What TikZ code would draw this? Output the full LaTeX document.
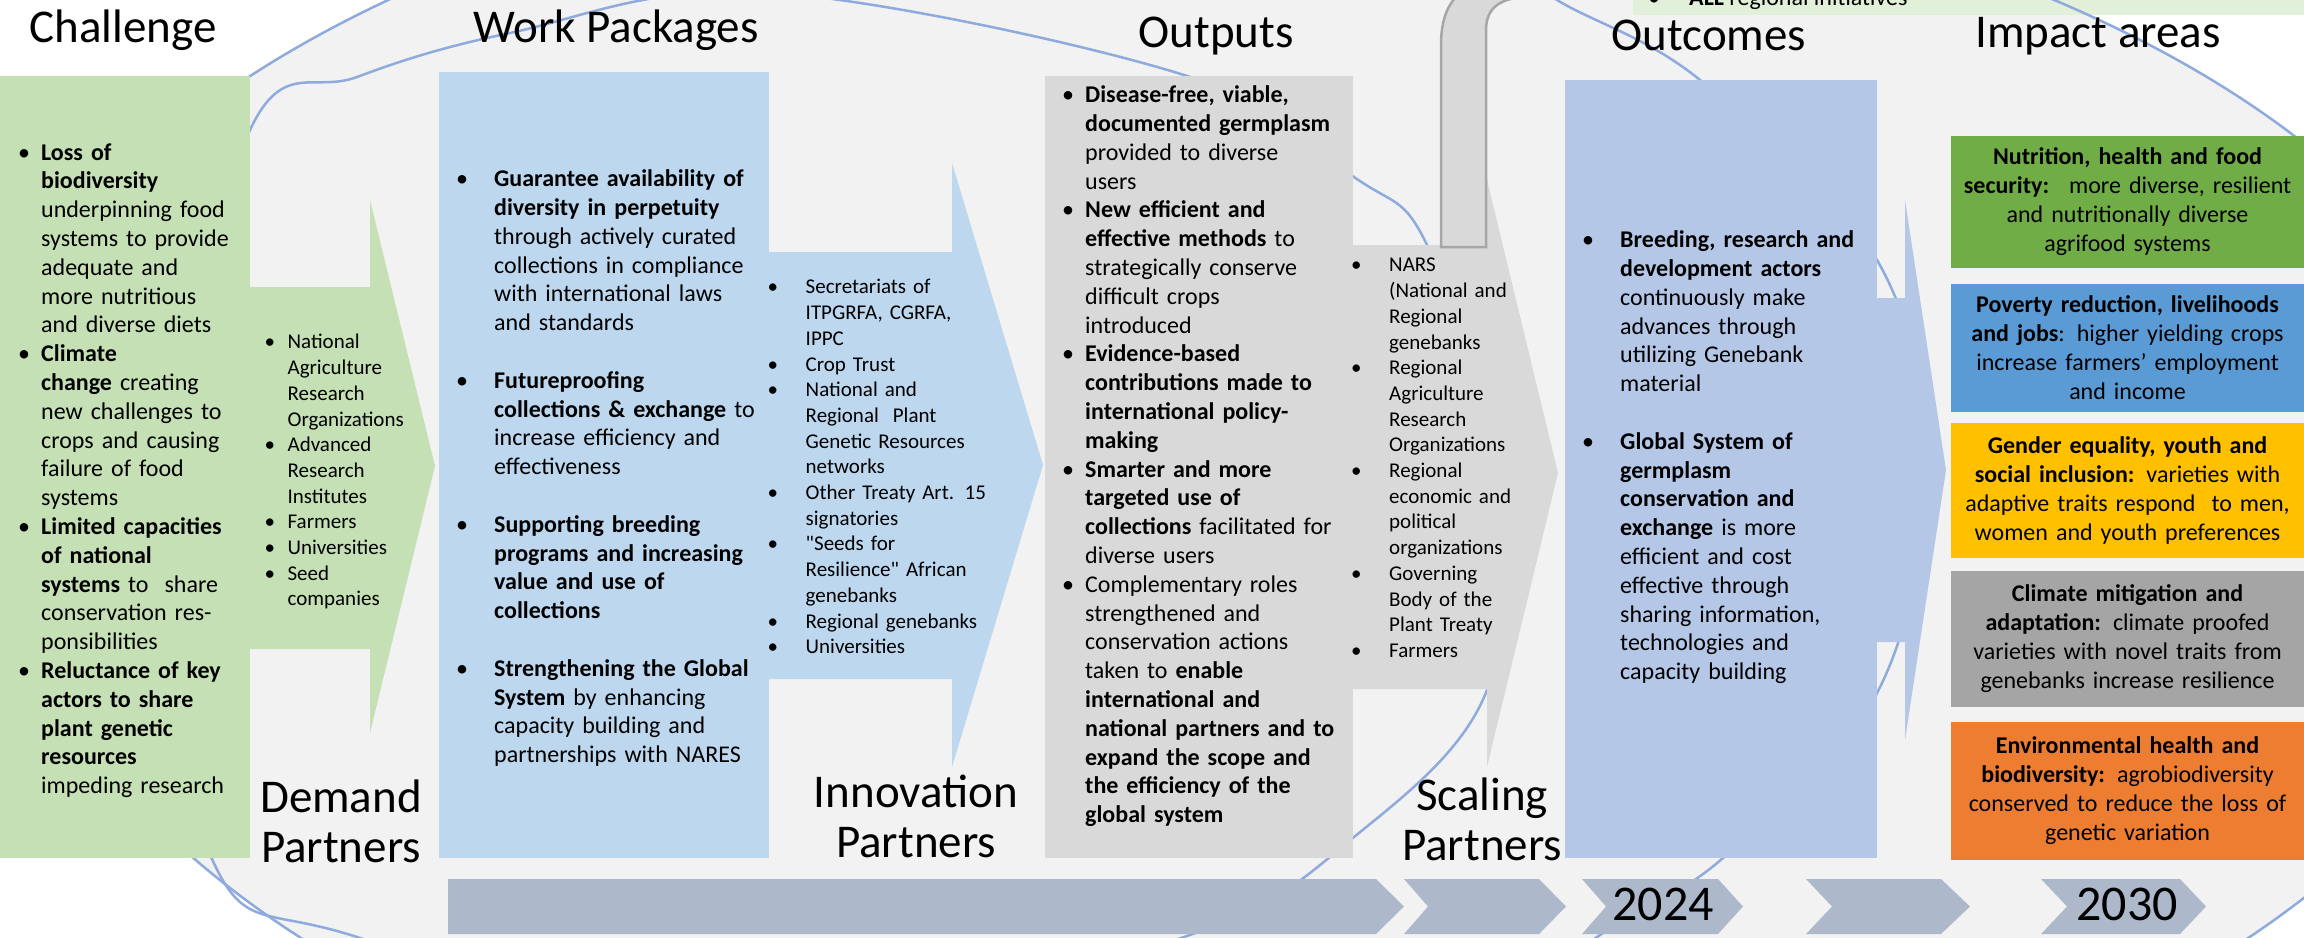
\documentclass[tikz,border=0pt]{standalone}
\usepackage{fontspec}
\setmainfont{Carlito}
\usetikzlibrary{positioning}

\definecolor{challengegreen}{HTML}{C5E0B4}
\definecolor{packageblue}{HTML}{BDD7EE}
\definecolor{outputgrey}{HTML}{D9D9D9}
\definecolor{outcomeblue}{HTML}{B4C7E7}
\definecolor{fieldgrey}{HTML}{F2F2F2}
\definecolor{ringblue}{HTML}{8FAADC}
\definecolor{timeline}{HTML}{ADB9CA}
\definecolor{stripgreen}{HTML}{E2F0D9}
\definecolor{pipeedge}{HTML}{A6A6A6}
\definecolor{impactgreen}{HTML}{70AD47}
\definecolor{impactblue}{HTML}{5B9BD5}
\definecolor{impactyellow}{HTML}{FFC000}
\definecolor{impactgrey}{HTML}{A5A5A5}
\definecolor{impactorange}{HTML}{ED7D31}

% bulleted paragraph with hanging indent
\newcommand{\blt}[2][23pt]{\par\hangindent=#1\hangafter=1\noindent\makebox[#1][l]{\strut\textbullet}#2\par}

\begin{document}
\begin{tikzpicture}[x=1pt, y=-1pt]
\tikzstyle{box} = [rectangle, inner sep=0pt, anchor=north west]
\tikzstyle{heading} = [font=\fontsize{47}{50}\selectfont, inner sep=0pt]
\tikzstyle{bodytext} = [font=\fontsize{24}{28.8}\selectfont, align=left, inner sep=0pt, anchor=north west]
\tikzstyle{listtext} = [font=\fontsize{21}{25.7}\selectfont, align=left, inner sep=0pt, anchor=north west]
\tikzstyle{impact} = [rectangle, inner sep=0pt, minimum width=353, text width=348, align=center, font=\fontsize{24}{29}\selectfont]
\tikzstyle{ring} = [draw=ringblue, line width=2.5]
\tikzstyle{year} = [font=\fontsize{50}{50}\selectfont, inner sep=0pt, anchor=base]

\useasboundingbox (0,0) rectangle (2304,937);
\clip (0,0) rectangle (2304,937);
\fill[white] (0,0) rectangle (2304,937);

% grey field behind everything
\fill[fieldgrey] (-23,480) .. controls (-23,122) and (538,-168) .. (1230,-168) -- (1230,-151)
  .. controls (1931,-151) and (2499,131) .. (2499,480) -- (2546,480)
  .. controls (2546,879) and (1957,1203) .. (1230,1203) -- (1230,1175)
  .. controls (548,1175) and (-5,864) .. (-5,480) -- cycle;

% regional initiatives strip
\node (strip) [box, fill=stripgreen, minimum width=700, minimum height=45] at (1633,-30) {};
\node (striptext) [anchor=base west, inner sep=0pt, font=\fontsize{24}{29}\selectfont] at (1648,5) {\makebox[41pt][l]{\textbullet}\textbf{ALL} regional initiatives};

% blue rings
\draw[ring] (-23,480) .. controls (-23,122) and (538,-168) .. (1230,-168) -- (1230,-151)
  .. controls (1931,-151) and (2499,131) .. (2499,480) -- (2546,480)
  .. controls (2546,879) and (1957,1203) .. (1230,1203) -- (1230,1175)
  .. controls (548,1175) and (-5,864) .. (-5,480) -- cycle;
\draw[ring] plot[smooth cycle, tension=0.6] coordinates {(160,500) (250,130) (357,77) (510,33) (765,-8) (1184,75) (1354,177) (1427,245) (1495,470) (1487,690) (1354,837) (1184,937) (770,1040) (357,937) (212,859)};
\draw[ring] plot[smooth, tension=0.6] coordinates {(1470,-60) (1557,0) (1700,80) (1877,260) (1925,470) (1877,693) (1723,858) (1597,937) (1530,990)};

% partner arrows
\fill[challengegreen] (200,287) -- (370,287) -- (370,200) -- (435,466) -- (370,733) -- (370,649) -- (200,649) -- cycle;
\fill[packageblue] (700,252) -- (952,252) -- (952,163) -- (1043,465) -- (952,767) -- (952,679) -- (700,679) -- cycle;
\fill[outputgrey] (1300,245) -- (1487,245) -- (1487,180) -- (1558,473) -- (1487,767) -- (1487,689) -- (1300,689) -- cycle;
\fill[outcomeblue] (1800,298) -- (1905,298) -- (1905,200) -- (1946,470) -- (1905,740) -- (1905,642) -- (1800,642) -- cycle;

% pipe up to the regional strip
\filldraw[fill=outputgrey, draw=pipeedge, line width=2.5] (1441,247) -- (1441,45) .. controls (1441,12) and (1452,-8) .. (1480,-18)
  -- (1530,-18) -- (1530,-3) .. controls (1500,-3) and (1486,8) .. (1486,30) -- (1486,247) -- cycle;

% column boxes
\node (challenge) [box, fill=challengegreen, minimum width=250, minimum height=782] at (0,76) {};
\node (packages) [box, fill=packageblue, minimum width=330, minimum height=786] at (439,72) {};
\node (outputs) [box, fill=outputgrey, minimum width=308, minimum height=782] at (1045,76) {};
\node (outcomes) [box, fill=outcomeblue, minimum width=312, minimum height=778] at (1565,80) {};

% impact areas
\node (nutrition) [impact, fill=impactgreen, minimum height=132] at (2127.5,202) {\textbf{Nutrition, health and food}\\\textbf{security:}~ more diverse, resilient\\and nutritionally diverse\\agrifood systems};
\node (poverty) [impact, fill=impactblue, minimum height=128] at (2127.5,348) {\textbf{Poverty reduction, livelihoods}\\\textbf{and jobs}: higher yielding crops\\increase farmers' employment\\and income};
\node (gender) [impact, fill=impactyellow, minimum height=135] at (2127.5,490.5) {\textbf{Gender equality, youth and}\\\textbf{social inclusion:} varieties with\\adaptive traits respond~ to men,\\women and youth preferences};
\node (climate) [impact, fill=impactgrey, minimum height=136] at (2127.5,639) {\textbf{Climate mitigation and}\\\textbf{adaptation:} climate proofed\\varieties with novel traits from\\genebanks increase resilience};
\node (environment) [impact, fill=impactorange, minimum height=138] at (2127.5,791) {\textbf{Environmental health and}\\\textbf{biodiversity:} agrobiodiversity\\conserved to reduce the loss of\\genetic variation};

% timeline
\fill[timeline] (448,879) -- (1376,879) -- (1404,906.5) -- (1376,934) -- (448,934) -- cycle;
\fill[timeline] (1404,879) -- (1539,879) -- (1566,906.5) -- (1539,934) -- (1404,934) -- (1428,906.5) -- cycle;
\fill[timeline] (1582,879) -- (1718,879) -- (1743,906.5) -- (1718,934) -- (1582,934) -- (1606,906.5) -- cycle;
\fill[timeline] (1806,879) -- (1941,879) -- (1970,906.5) -- (1941,934) -- (1806,934) -- (1832,906.5) -- cycle;
\fill[timeline] (2041,879) -- (2180,879) -- (2206,906.5) -- (2180,934) -- (2041,934) -- (2067,906.5) -- cycle;
\node (y2024) [year] at (1663,920) {2024};
\node (y2030) [year] at (2127,920) {2030};

% headings
\node (challengetitle) [heading, anchor=base] at (123,42) {Challenge};
\node (packagestitle) [heading, anchor=base] at (616,42) {Work Packages};
\node (outputstitle) [heading, anchor=base] at (1216,47) {Outputs};
\node (outcomestitle) [heading, anchor=base] at (1709,50) {Outcomes};
\node (impacttitle) [heading, anchor=base] at (2098,47) {Impact areas};
\node (demand) [heading, anchor=north, align=center] at (341,777) {\strut Demand\\Partners};
\node (innovation) [heading, anchor=north, align=center] at (916,772) {\strut Innovation\\Partners};
\node (scaling) [heading, anchor=north, align=center] at (1482,775) {\strut Scaling\\Partners};

% column texts
\node (challengetext) [bodytext, text width=230, below right=55pt and 18pt of challenge.north west] {%
\blt{\textbf{Loss of}\newline\textbf{biodiversity}\newline underpinning food\newline systems to provide\newline adequate and\newline more nutritious\newline and diverse diets}
\blt{\textbf{Climate}\newline\textbf{change} creating\newline new challenges to\newline crops and causing\newline failure of food\newline systems}
\blt{\textbf{Limited capacities}\newline\textbf{of national}\newline\textbf{systems} to~ share\newline conservation res-\newline ponsibilities}
\blt{\textbf{Reluctance of key}\newline\textbf{actors to share}\newline\textbf{plant genetic}\newline\textbf{resources}\newline impeding research}};

\node (demandlist) [listtext, text width=160, below right=247pt and 14pt of challenge.north east] {%
\blt{National\newline Agriculture\newline Research\newline Organizations}
\blt{Advanced\newline Research\newline Institutes}
\blt{Farmers}
\blt{Universities}
\blt{Seed\newline companies}};

\node (packagestext) [bodytext, text width=310, below right=85.7pt and 17pt of packages.north west] {%
\blt[38pt]{\textbf{Guarantee availability of}\newline\textbf{diversity in perpetuity}\newline through actively curated\newline collections in compliance\newline with international laws\newline and standards}
\vskip 28.8pt
\blt[38pt]{\textbf{Futureproofing}\newline\textbf{collections \& exchange} to\newline increase efficiency and\newline effectiveness}
\vskip 28.8pt
\blt[38pt]{\textbf{Supporting breeding}\newline\textbf{programs and increasing}\newline\textbf{value and use of}\newline\textbf{collections}}
\vskip 28.8pt
\blt[38pt]{\textbf{Strengthening the Global}\newline\textbf{System} by enhancing\newline capacity building and\newline partnerships with NARES}};

\node (innovationlist) [listtext, text width=230] at (767.5,268) {%
\blt[38pt]{Secretariats of\newline ITPGRFA, CGRFA,\newline IPPC}
\blt[38pt]{Crop Trust}
\blt[38pt]{National and\newline Regional~ Plant\newline Genetic Resources\newline networks}
\blt[38pt]{Other Treaty Art. 15\newline signatories}
\blt[38pt]{\textquotedbl Seeds for\newline Resilience\textquotedbl\ African\newline genebanks}
\blt[38pt]{Regional genebanks}
\blt[38pt]{Universities}};

\node (outputstext) [bodytext, text width=290, below right=-2.3pt and 17pt of outputs.north west] {%
\blt{\textbf{Disease-free, viable,}\newline\textbf{documented germplasm}\newline provided to diverse\newline users}
\blt{\textbf{New efficient and}\newline\textbf{effective methods} to\newline strategically conserve\newline difficult crops\newline introduced}
\blt{\textbf{Evidence-based}\newline\textbf{contributions made to}\newline\textbf{international policy-}\newline\textbf{making}}
\blt{\textbf{Smarter and more}\newline\textbf{targeted use of}\newline\textbf{collections} facilitated for\newline diverse users}
\blt{Complementary roles\newline strengthened and\newline conservation actions\newline taken to \textbf{enable}\newline\textbf{international and}\newline\textbf{national partners and to}\newline\textbf{expand the scope and}\newline\textbf{the efficiency of the}\newline\textbf{global system}}};

\node (scalinglist) [listtext, text width=180] at (1351,246) {%
\blt[38pt]{NARS\newline (National and\newline Regional\newline genebanks}
\blt[38pt]{Regional\newline Agriculture\newline Research\newline Organizations}
\blt[38pt]{Regional\newline economic and\newline political\newline organizations}
\blt[38pt]{Governing\newline Body of the\newline Plant Treaty}
\blt[38pt]{Farmers}};

\node (outcomestext) [bodytext, text width=290, below right=138.7pt and 17pt of outcomes.north west] {%
\blt[38pt]{\textbf{Breeding, research and}\newline\textbf{development actors}\newline continuously make\newline advances through\newline utilizing Genebank\newline material}
\vskip 28.8pt
\blt[38pt]{\textbf{Global System of}\newline\textbf{germplasm}\newline\textbf{conservation and}\newline\textbf{exchange} is more\newline efficient and cost\newline effective through\newline sharing information,\newline technologies and\newline capacity building}};
\end{tikzpicture}
\end{document}
